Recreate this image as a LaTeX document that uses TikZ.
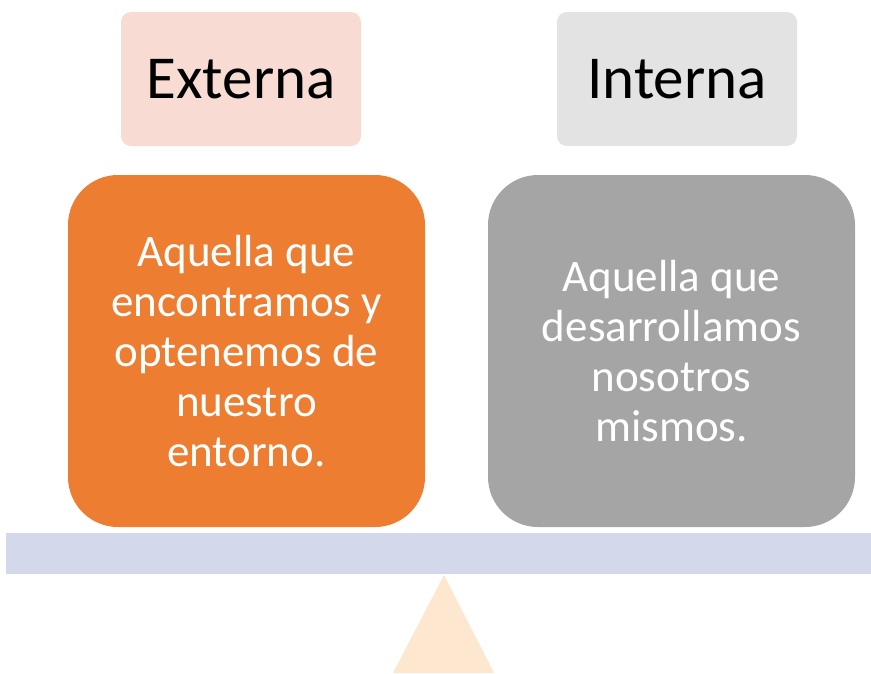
\documentclass[tikz,border=0pt]{standalone}
\usepackage{fontspec}
\setmainfont{Carlito}
\definecolor{pinkc}{HTML}{F8DBD3}
\definecolor{lgray}{HTML}{E3E3E3}
\definecolor{orangec}{HTML}{ED7D31}
\definecolor{grayc}{HTML}{A5A5A5}
\definecolor{barc}{HTML}{D3D9EA}
\definecolor{tric}{HTML}{FDE8CF}
\tikzset{
  titlebox/.style={rectangle, rounded corners=10pt, inner sep=0pt, minimum width=240pt, minimum height=134pt, font=\fontsize{61}{72}\selectfont, text=black},
  bodybox/.style={rectangle, rounded corners=50pt, inner sep=0pt, minimum height=352pt, align=center, font=\fontsize{45}{50}\selectfont, text=white},
}
\begin{document}
\begin{tikzpicture}[x=1pt,y=-1pt]
\useasboundingbox (0,0) rectangle (871,673);
\node[titlebox, fill=pinkc] (ext) at (241,79) {Externa};
\node[titlebox, fill=lgray] (int) at (677,79) {Interna};
\node[bodybox, fill=orangec, minimum width=357pt] (extd) at (246.5,351) {Aquella que\\encontramos y\\optenemos de\\nuestro\\entorno.};
\node[bodybox, fill=grayc, minimum width=367pt] (intd) at (671.5,351) {Aquella que\\desarrollamos\\nosotros\\mismos.};
\node[rectangle, fill=barc, inner sep=0pt, minimum width=865pt, minimum height=41pt] (bar) at (438.5,553.5) {};
\coordinate (apex) at (444,575);
\coordinate (bl) at (393,673);
\coordinate (br) at (494,673);
\fill[tric] (apex) -- (br) -- (bl) -- cycle;
\end{tikzpicture}
\end{document}
